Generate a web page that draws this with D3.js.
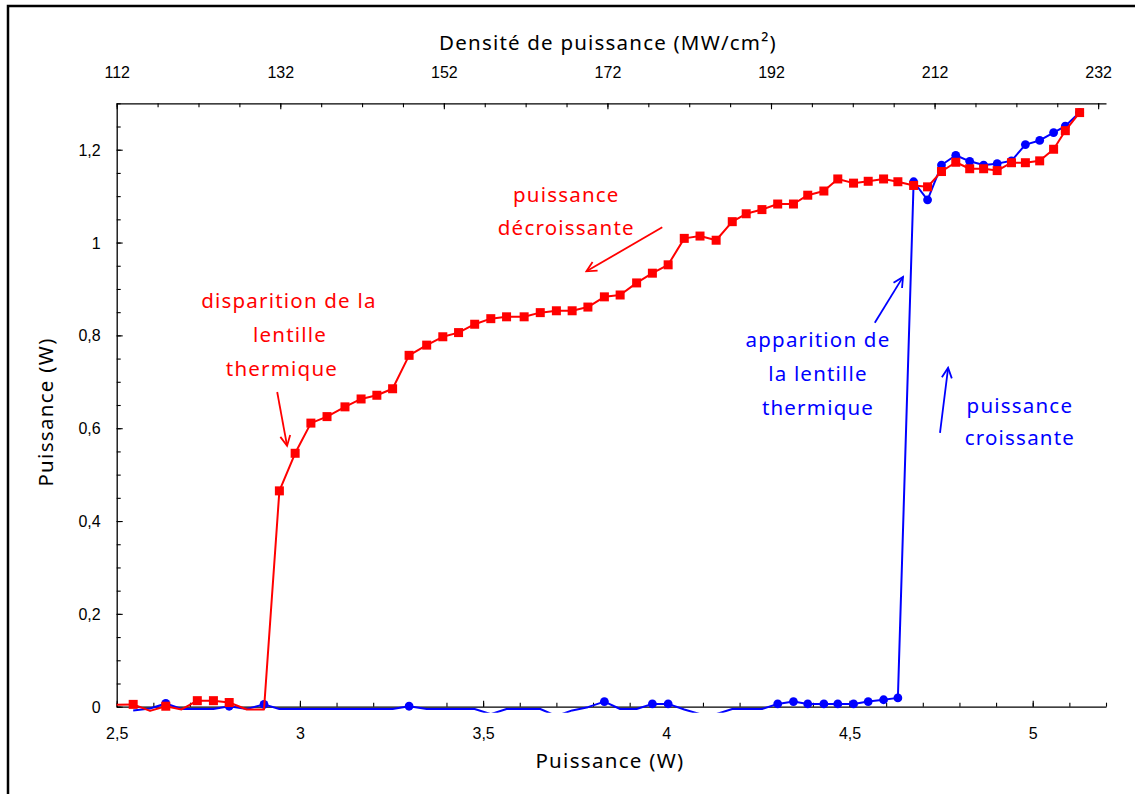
<!DOCTYPE html>
<html><head><meta charset="utf-8">
<script src="https://cdn.jsdelivr.net/npm/d3@7"></script>
<style>body{margin:0;background:#fff} svg{display:block}</style>
</head><body>
<svg id="chart" width="1135" height="794"></svg>
<script>
// ---------- data ----------
const redX = [2.49, 2.545, 2.591, 2.634, 2.677, 2.720, 2.764, 2.807, 2.855, 2.902, 2.944, 2.987, 3.030, 3.074, 3.123, 3.167, 3.210, 3.253, 3.298, 3.346, 3.390, 3.433, 3.477, 3.521, 3.564, 3.612, 3.656, 3.700, 3.743, 3.786, 3.831, 3.874, 3.919, 3.962, 4.005, 4.049, 4.092, 4.136, 4.180, 4.218, 4.261, 4.304, 4.347, 4.386, 4.430, 4.468, 4.511, 4.551, 4.593, 4.632, 4.675, 4.713, 4.751, 4.790, 4.828, 4.866, 4.903, 4.942, 4.980, 5.019, 5.057, 5.089, 5.128];
const redY = [0.004, 0.005, -0.009, 0.001, -0.006, 0.013, 0.013, 0.009, -0.006, -0.006, 0.465, 0.546, 0.611, 0.625, 0.646, 0.663, 0.671, 0.685, 0.757, 0.779, 0.797, 0.806, 0.824, 0.836, 0.840, 0.840, 0.849, 0.853, 0.853, 0.861, 0.883, 0.887, 0.913, 0.934, 0.952, 1.009, 1.014, 1.005, 1.045, 1.062, 1.071, 1.083, 1.083, 1.102, 1.111, 1.137, 1.128, 1.132, 1.137, 1.131, 1.123, 1.120, 1.153, 1.173, 1.159, 1.159, 1.155, 1.172, 1.172, 1.176, 1.201, 1.241, 1.280];

const blueX = [2.545, 2.591, 2.634, 2.677, 2.720, 2.764, 2.807, 2.855, 2.902, 2.944, 2.987, 3.030, 3.074, 3.123, 3.167, 3.210, 3.253, 3.298, 3.346, 3.390, 3.433, 3.477, 3.521, 3.564, 3.612, 3.656, 3.700, 3.743, 3.786, 3.831, 3.874, 3.919, 3.962, 4.005, 4.049, 4.092, 4.136, 4.180, 4.218, 4.261, 4.304, 4.347, 4.386, 4.430, 4.468, 4.511, 4.551, 4.593, 4.632, 4.675, 4.713, 4.751, 4.790, 4.828, 4.866, 4.903, 4.942, 4.980, 5.019, 5.057, 5.089, 5.128];
const blueY = [-0.008, -0.004, 0.007, -0.005, -0.005, -0.005, 0.001, -0.005, 0.005, -0.005, -0.005, -0.005, -0.005, -0.005, -0.005, -0.005, -0.005, 0.001, -0.005, -0.005, -0.005, -0.005, -0.016, -0.005, -0.005, -0.005, -0.020, -0.008, -0.001, 0.011, -0.005, -0.005, 0.006, 0.006, -0.006, -0.016, -0.016, -0.005, -0.005, -0.005, 0.006, 0.011, 0.006, 0.006, 0.006, 0.006, 0.011, 0.015, 0.019, 1.131, 1.092, 1.167, 1.188, 1.175, 1.167, 1.170, 1.176, 1.211, 1.220, 1.237, 1.251, 1.280];

const xDomain = [2.5, 5.2];
const yDomain = [0, 1.3];
const densityPerWatt = 44.8;           // MW/cm² per W
const bottomMajorTicks = [2.5, 3, 3.5, 4, 4.5, 5];
const leftMajorTicks = [0, 0.2, 0.4, 0.6, 0.8, 1, 1.2];
const topMajorTicks = [112, 132, 152, 172, 192, 212, 232];

const topTitle = "Densité de puissance (MW/cm²)";
const bottomTitle = "Puissance (W)";
const leftTitle = "Puissance (W)";

// annotations in data coordinates
const redNotes = [
  {t: "puissance", x: 3.727, y: 1.104},
  {t: "décroissante", x: 3.727, y: 1.033},
  {t: "disparition de la", x: 2.970, y: 0.876},
  {t: "lentille", x: 2.973, y: 0.803},
  {t: "thermique", x: 2.951, y: 0.730}
];
const blueNotes = [
  {t: "apparition de", x: 4.414, y: 0.792},
  {t: "la lentille", x: 4.414, y: 0.719},
  {t: "thermique", x: 4.414, y: 0.646},
  {t: "puissance", x: 4.965, y: 0.650},
  {t: "croissante", x: 4.965, y: 0.581}
];
const redArrows = [
  {x1: 3.989, y1: 1.033, x2: 3.782, y2: 0.938},
  {x1: 2.938, y1: 0.678, x2: 2.965, y2: 0.562}
];
const blueArrows = [
  {x1: 4.569, y1: 0.827, x2: 4.646, y2: 0.926},
  {x1: 4.747, y1: 0.590, x2: 4.769, y2: 0.730}
];

// ---------- drawing ----------
const RED = "#ff0000", BLUE = "#0000ff";
const svg = d3.select("#chart");
const L = 116.7, R = 1106, T = 103.3, B = 706.7;
const x = d3.scaleLinear().domain(xDomain).range([L, R]);
const xTop = d3.scaleLinear().domain(xDomain.map(v => v * densityPerWatt)).range([L, R]);
const y = d3.scaleLinear().domain(yDomain).range([B, T]);
const fmt = d => String(+(+d).toFixed(2)).replace(".", ",");
const tickFont = "'Liberation Sans', Arial, sans-serif";
const handFont = "'Comic Sans MS', 'Noto Sans', sans-serif";

// outer frame
svg.append("path").attr("d", "M8,794 V6 H1135").attr("fill", "none")
  .attr("stroke", "#000").attr("stroke-width", 2.5);

const styleAxis = g => {
  g.selectAll("path.domain").attr("stroke", "#000").attr("stroke-width", 1.3);
  g.selectAll(".tick line").attr("stroke", "#000").attr("stroke-width", 1.1);
  g.selectAll("text").attr("font-family", tickFont).attr("font-size", 16).attr("fill", "#000");
};

// bottom axis
const minorX = d3.range(25, 53).map(i => i / 10);
svg.append("g").attr("transform", `translate(0,${B})`)
  .call(d3.axisTop(x).tickValues(minorX).tickSize(4).tickSizeOuter(0).tickFormat(""))
  .call(styleAxis);
svg.append("g").attr("transform", `translate(0,${B})`)
  .call(d3.axisTop(x).tickValues(bottomMajorTicks).tickSize(6).tickSizeOuter(0).tickFormat(""))
  .call(g => g.select(".domain").remove()).call(styleAxis);
svg.append("g").attr("transform", `translate(0,${B})`)
  .call(d3.axisBottom(x).tickValues(bottomMajorTicks).tickSize(0).tickFormat(fmt))
  .call(g => g.select(".domain").remove())
  .call(styleAxis)
  .call(g => g.selectAll("text").attr("y", 27).attr("dy", "0.35em"));

// top axis
const minorTop = d3.range(112, 233, 5);
svg.append("g").attr("transform", `translate(0,${T})`)
  .call(d3.axisBottom(xTop).tickValues(minorTop).tickSize(4).tickSizeOuter(0).tickFormat(""))
  .call(styleAxis);
svg.append("g").attr("transform", `translate(0,${T})`)
  .call(d3.axisBottom(xTop).tickValues(topMajorTicks).tickSize(6).tickSizeOuter(0).tickFormat(""))
  .call(g => g.select(".domain").remove()).call(styleAxis);
svg.append("g").attr("transform", `translate(0,${T})`)
  .call(d3.axisTop(xTop).tickValues(topMajorTicks).tickSize(0).tickFormat(d3.format("d")))
  .call(g => g.select(".domain").remove())
  .call(styleAxis)
  .call(g => g.selectAll("text").attr("y", -31).attr("dy", "0.35em"));

// left axis
const minorY = d3.range(0, 27).map(i => +(i * 0.05).toFixed(2));
svg.append("g").attr("transform", `translate(${L},0)`)
  .call(d3.axisRight(y).tickValues(minorY).tickSize(4).tickSizeOuter(0).tickFormat(""))
  .call(styleAxis);
svg.append("g").attr("transform", `translate(${L},0)`)
  .call(d3.axisRight(y).tickValues(leftMajorTicks).tickSize(6).tickSizeOuter(0).tickFormat(""))
  .call(g => g.select(".domain").remove()).call(styleAxis);
svg.append("g").attr("transform", `translate(${L},0)`)
  .call(d3.axisLeft(y).tickValues(leftMajorTicks).tickSize(0).tickFormat(fmt))
  .call(g => g.select(".domain").remove())
  .call(styleAxis)
  .call(g => g.selectAll("text").attr("x", -16).attr("dy", "0.35em"));

// titles
svg.append("text").attr("x", 608).attr("y", 42).attr("text-anchor", "middle")
  .attr("dominant-baseline", "central").attr("font-family", handFont).attr("font-size", 20.5)
  .attr("letter-spacing", 1.2).text(topTitle);
svg.append("text").attr("x", 610).attr("y", 760).attr("text-anchor", "middle")
  .attr("dominant-baseline", "central").attr("font-family", handFont).attr("font-size", 20.5)
  .attr("letter-spacing", 1.3).text(bottomTitle);
svg.append("text").attr("transform", "translate(45,412) rotate(-90)").attr("text-anchor", "middle")
  .attr("dominant-baseline", "central").attr("font-family", handFont).attr("font-size", 20.5)
  .attr("letter-spacing", 1.3).text(leftTitle);

// clip region (slightly below the x axis, like the original)
svg.append("clipPath").attr("id", "plotclip").append("rect")
  .attr("x", x(xDomain[0])).attr("y", y(yDomain[1]) - 8)
  .attr("width", x(xDomain[1]) - x(xDomain[0]))
  .attr("height", y(-0.013) - y(yDomain[1]) + 8);

const line = d3.line().x(d => x(d.x)).y(d => y(d.y));
const blueData = blueX.map((v, i) => ({x: v, y: blueY[i]}));
const redData = redX.map((v, i) => ({x: v, y: redY[i]}));
const plot = svg.append("g").attr("clip-path", "url(#plotclip)");

plot.append("path").datum(blueData).attr("d", line).attr("fill", "none")
  .attr("stroke", BLUE).attr("stroke-width", 2).attr("stroke-linejoin", "round");
plot.selectAll("circle.blue").data(blueData.filter(d => d.y >= 0 && d.x >= xDomain[0]))
  .join("circle").attr("class", "blue")
  .attr("cx", d => x(d.x)).attr("cy", d => y(d.y)).attr("r", 4.4).attr("fill", BLUE);

plot.append("path").datum(redData).attr("d", line).attr("fill", "none")
  .attr("stroke", RED).attr("stroke-width", 2).attr("stroke-linejoin", "round");
const sq = 9;
plot.selectAll("rect.red").data(redData.filter(d => d.y >= 0 && d.x >= xDomain[0]))
  .join("rect").attr("class", "red")
  .attr("x", d => x(d.x) - sq / 2).attr("y", d => y(d.y) - sq / 2)
  .attr("width", sq).attr("height", sq).attr("fill", RED);

// arrow markers
const defs = svg.append("defs");
[["arrRed", RED], ["arrBlue", BLUE]].forEach(([id, c]) => {
  defs.append("marker").attr("id", id).attr("viewBox", "-12 -7 14 14")
    .attr("refX", 0).attr("refY", 0).attr("markerWidth", 14).attr("markerHeight", 14)
    .attr("markerUnits", "userSpaceOnUse").attr("orient", "auto")
    .append("path").attr("d", "M-10,-5 L0,0 L-10,5").attr("fill", "none")
    .attr("stroke", c).attr("stroke-width", 1.8);
});
const drawArrows = (arr, c, id) => svg.append("g").selectAll("line").data(arr).join("line")
  .attr("x1", d => x(d.x1)).attr("y1", d => y(d.y1)).attr("x2", d => x(d.x2)).attr("y2", d => y(d.y2))
  .attr("stroke", c).attr("stroke-width", 1.8).attr("marker-end", `url(#${id})`);
drawArrows(redArrows, RED, "arrRed");
drawArrows(blueArrows, BLUE, "arrBlue");

const drawNotes = (arr, c) => svg.append("g").selectAll("text").data(arr).join("text")
  .attr("x", d => x(d.x)).attr("y", d => y(d.y)).attr("text-anchor", "middle")
  .attr("dominant-baseline", "central").attr("font-family", handFont).attr("font-size", 20.5)
  .attr("letter-spacing", 1.2).attr("fill", c).text(d => d.t);
drawNotes(redNotes, RED);
drawNotes(blueNotes, BLUE);
</script>
</body></html>
